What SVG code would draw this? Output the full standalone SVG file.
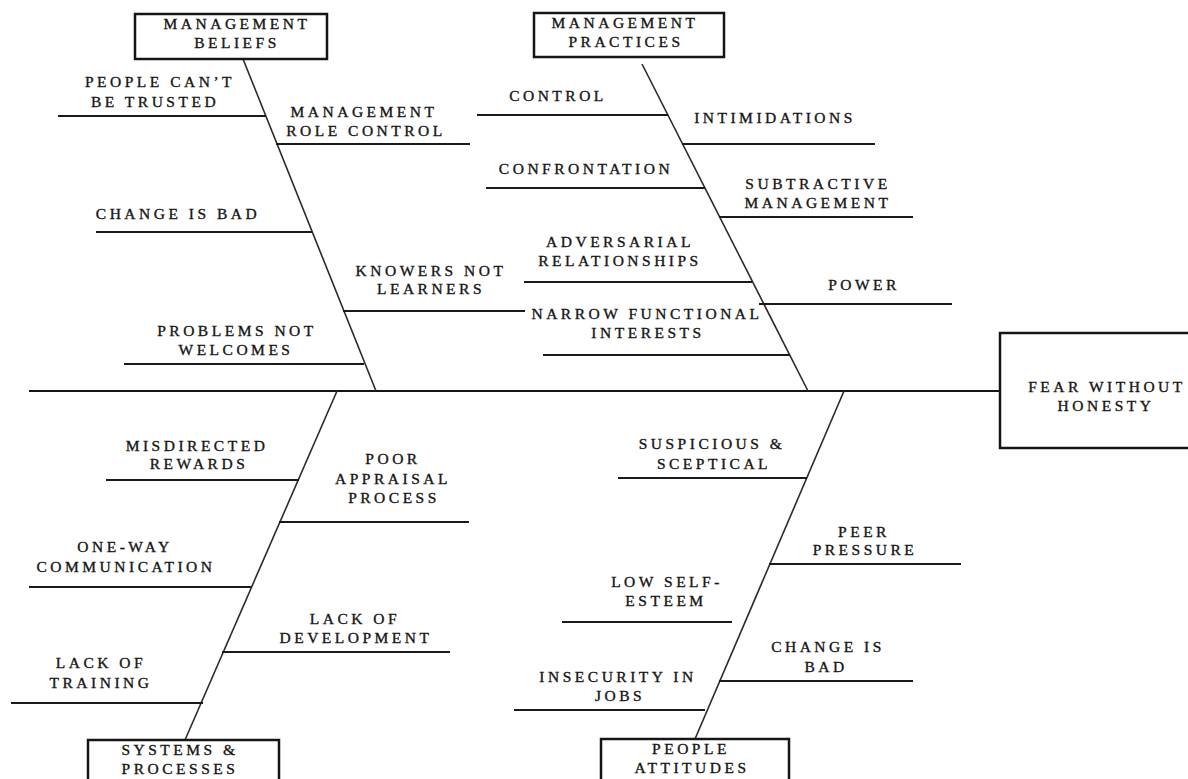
<svg xmlns="http://www.w3.org/2000/svg" width="1188" height="779" viewBox="0 0 1188 779">
<style>
  text { font-family: "Liberation Serif", "Times New Roman", serif; font-size: 15.5px; letter-spacing: 3.5px; fill: #151515; stroke: #151515; stroke-width: 0.35; text-anchor: middle; }
  .box { fill: #fff; stroke: #151515; stroke-width: 2.5; }
  .bone { stroke: #1a1a1a; stroke-width: 2; fill: none; }
  .spine { stroke: #2a2a2a; stroke-width: 1.6; fill: none; }
  .axis { stroke: #151515; stroke-width: 2.2; fill: none; }
</style>
<rect width="1188" height="779" fill="#fff"/>

<g id="connectors">
  <line class="axis" x1="29" y1="391" x2="1000" y2="391"/>
  <line class="spine" x1="243" y1="59" x2="376" y2="391"/>
  <line class="spine" x1="642" y1="64" x2="808" y2="391"/>
  <line class="spine" x1="337" y1="391" x2="185" y2="740"/>
  <line class="spine" x1="844" y1="391" x2="695" y2="739"/>
</g>

<g id="effect">
  <rect class="box" x="1000" y="333" width="200" height="115"/>
  <text x="1107" y="392">FEAR WITHOUT</text>
  <text x="1106" y="411">HONESTY</text>
</g>

<g id="cat-management-beliefs">
  <rect class="box" x="135" y="14" width="192" height="45"/>
  <text x="237" y="29">MANAGEMENT</text>
  <text x="237" y="48">BELIEFS</text>
</g>
<g id="cat-management-practices">
  <rect class="box" x="534" y="13" width="190" height="44"/>
  <text x="625" y="28">MANAGEMENT</text>
  <text x="626" y="47">PRACTICES</text>
</g>
<g id="cat-systems-processes">
  <rect class="box" x="88" y="740" width="191" height="60"/>
  <text x="180" y="755">SYSTEMS &amp;</text>
  <text x="180" y="774">PROCESSES</text>
</g>
<g id="cat-people-attitudes">
  <rect class="box" x="601" y="739" width="188" height="60"/>
  <text x="691" y="754">PEOPLE</text>
  <text x="692" y="773">ATTITUDES</text>
</g>

<!-- Management beliefs causes -->
<g id="people-cant-be-trusted">
  <line class="bone" x1="58" y1="116" x2="266" y2="116"/>
  <text x="160" y="87">PEOPLE CAN’T</text>
  <text x="155" y="107">BE TRUSTED</text>
</g>
<g id="management-role-control">
  <line class="bone" x1="276" y1="144" x2="470" y2="144"/>
  <text x="364" y="117">MANAGEMENT</text>
  <text x="366" y="136">ROLE CONTROL</text>
</g>
<g id="change-is-bad-1">
  <line class="bone" x1="96" y1="232" x2="312" y2="232"/>
  <text x="178" y="219">CHANGE IS BAD</text>
</g>
<g id="knowers-not-learners">
  <line class="bone" x1="343" y1="311" x2="525" y2="311"/>
  <text x="431" y="276">KNOWERS NOT</text>
  <text x="431" y="294">LEARNERS</text>
</g>
<g id="problems-not-welcomes">
  <line class="bone" x1="124" y1="364" x2="364" y2="364"/>
  <text x="237" y="336">PROBLEMS NOT</text>
  <text x="236" y="355">WELCOMES</text>
</g>

<!-- Management practices causes -->
<g id="control">
  <line class="bone" x1="477" y1="115" x2="668" y2="115"/>
  <text x="558" y="101">CONTROL</text>
</g>
<g id="intimidations">
  <line class="bone" x1="682" y1="144" x2="875" y2="144"/>
  <text x="775" y="123">INTIMIDATIONS</text>
</g>
<g id="confrontation">
  <line class="bone" x1="486" y1="188" x2="705" y2="188"/>
  <text x="586" y="174">CONFRONTATION</text>
</g>
<g id="subtractive-management">
  <line class="bone" x1="719" y1="217" x2="913" y2="217"/>
  <text x="818" y="189">SUBTRACTIVE</text>
  <text x="818" y="208">MANAGEMENT</text>
</g>
<g id="adversarial-relationships">
  <line class="bone" x1="524" y1="282" x2="752" y2="282"/>
  <text x="620" y="247">ADVERSARIAL</text>
  <text x="620" y="266">RELATIONSHIPS</text>
</g>
<g id="power">
  <line class="bone" x1="759" y1="304" x2="952" y2="304"/>
  <text x="864" y="290">POWER</text>
</g>
<g id="narrow-functional-interests">
  <line class="bone" x1="543" y1="355" x2="790" y2="355"/>
  <text x="647" y="319">NARROW FUNCTIONAL</text>
  <text x="648" y="338">INTERESTS</text>
</g>

<!-- Systems & processes causes -->
<g id="misdirected-rewards">
  <line class="bone" x1="106" y1="480" x2="299" y2="480"/>
  <text x="197" y="451">MISDIRECTED</text>
  <text x="199" y="469">REWARDS</text>
</g>
<g id="poor-appraisal-process">
  <line class="bone" x1="279" y1="522" x2="469" y2="522"/>
  <text x="393" y="464">POOR</text>
  <text x="393" y="484">APPRAISAL</text>
  <text x="394" y="503">PROCESS</text>
</g>
<g id="one-way-communication">
  <line class="bone" x1="29" y1="587" x2="251" y2="587"/>
  <text x="125" y="552">ONE-WAY</text>
  <text x="126" y="572">COMMUNICATION</text>
</g>
<g id="lack-of-development">
  <line class="bone" x1="222" y1="652" x2="450" y2="652"/>
  <text x="355" y="624">LACK OF</text>
  <text x="356" y="643">DEVELOPMENT</text>
</g>
<g id="lack-of-training">
  <line class="bone" x1="11" y1="703" x2="203" y2="703"/>
  <text x="101" y="668">LACK OF</text>
  <text x="101" y="688">TRAINING</text>
</g>

<!-- People attitudes causes -->
<g id="suspicious-sceptical">
  <line class="bone" x1="618" y1="478" x2="807" y2="478"/>
  <text x="712" y="449">SUSPICIOUS &amp;</text>
  <text x="714" y="469">SCEPTICAL</text>
</g>
<g id="peer-pressure">
  <line class="bone" x1="769" y1="564" x2="961" y2="564"/>
  <text x="864" y="537">PEER</text>
  <text x="865" y="555">PRESSURE</text>
</g>
<g id="low-self-esteem">
  <line class="bone" x1="562" y1="622" x2="732" y2="622"/>
  <text x="667" y="587">LOW SELF-</text>
  <text x="666" y="606">ESTEEM</text>
</g>
<g id="change-is-bad-2">
  <line class="bone" x1="719" y1="681" x2="913" y2="681"/>
  <text x="828" y="652">CHANGE IS</text>
  <text x="826" y="672">BAD</text>
</g>
<g id="insecurity-in-jobs">
  <line class="bone" x1="514" y1="710" x2="705" y2="710"/>
  <text x="618" y="682">INSECURITY IN</text>
  <text x="620" y="701">JOBS</text>
</g>
</svg>
